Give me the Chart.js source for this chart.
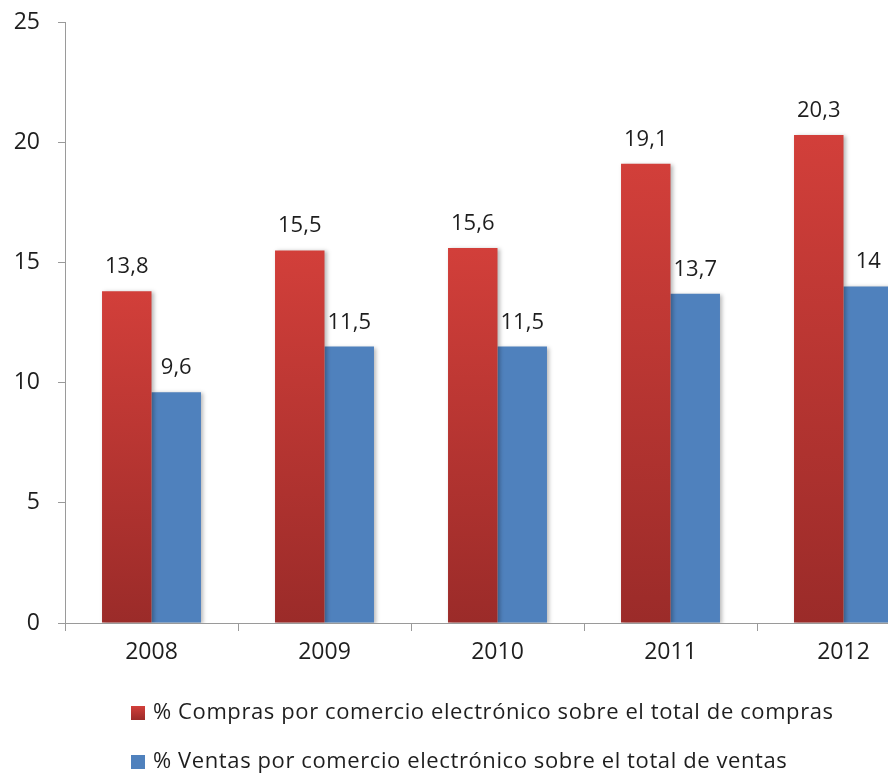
<!DOCTYPE html>
<html lang="es">
<head>
    <meta charset="UTF-8">
    <title>Comercio electrónico</title>
    <script src="https://cdn.jsdelivr.net/npm/chart.js"></script>
    <style>
        body {
            margin: 0;
            background: #fff;
            overflow: hidden;
        }
        #wrap {
            width: 940px;
            height: 773px;
        }
    </style>
</head>
<body>
    <div id="wrap">
        <canvas id="barChart" width="940" height="773"></canvas>
    </div>

    <script>
        const years = ['2008', '2009', '2010', '2011', '2012'];
        const compras = [13.8, 15.5, 15.6, 19.1, 20.3];
        const ventas = [9.6, 11.5, 11.5, 13.7, 14];
        const seriesNames = [
            '% Compras por comercio electrónico sobre el total de compras',
            '% Ventas por comercio electrónico sobre el total de ventas'
        ];
        const yTicks = [0, 5, 10, 15, 20, 25];

        const FONT = '"Open Sans", sans-serif';
        const BLUE = '#4f81bd';

        // red bars fade from a bright top to a darker base, one gradient per bar
        function redFill(context) {
            const chart = context.chart;
            if (!chart.chartArea || context.dataIndex === undefined) return '#c0392f';
            const y = chart.scales.y;
            const top = y.getPixelForValue(compras[context.dataIndex]);
            const bottom = y.getPixelForValue(0);
            const g = chart.ctx.createLinearGradient(0, top, 0, bottom);
            g.addColorStop(0, '#d23f3a');
            g.addColorStop(1, '#9b2b29');
            return g;
        }

        const barShadow = {
            id: 'barShadow',
            beforeDatasetsDraw(chart) {
                const ctx = chart.ctx;
                ctx.save();
                ctx.shadowColor = 'rgba(0,0,0,0.28)';
                ctx.shadowBlur = 4;
                ctx.shadowOffsetX = 2;
                ctx.shadowOffsetY = 1;
            },
            afterDatasetsDraw(chart) {
                chart.ctx.restore();
            }
        };

        const valueLabels = {
            id: 'valueLabels',
            afterDatasetsDraw(chart) {
                const ctx = chart.ctx;
                ctx.save();
                ctx.font = '22px ' + FONT;
                ctx.fillStyle = '#1e1e1e';
                ctx.textAlign = 'center';
                ctx.textBaseline = 'alphabetic';
                chart.data.datasets.forEach((ds, i) => {
                    chart.getDatasetMeta(i).data.forEach((bar, j) => {
                        const txt = String(ds.data[j]).replace('.', ',');
                        ctx.fillText(txt, bar.x, bar.y - 18);
                    });
                });
                ctx.restore();
            }
        };

        // two-row legend under the plot, aligned to the left
        const bottomLegend = {
            id: 'bottomLegend',
            afterDraw(chart) {
                const ctx = chart.ctx;
                const x0 = 131;
                const rows = [713, 762];
                ctx.save();
                ctx.font = '22px ' + FONT;
                ctx.letterSpacing = '0.6px';
                ctx.textBaseline = 'middle';
                chart.data.datasets.forEach((ds, i) => {
                    const cy = rows[i];
                    if (i === 0) {
                        const g = ctx.createLinearGradient(0, cy - 7, 0, cy + 7);
                        g.addColorStop(0, '#d23f3a');
                        g.addColorStop(1, '#9b2b29');
                        ctx.fillStyle = g;
                    } else {
                        ctx.fillStyle = BLUE;
                    }
                    ctx.fillRect(x0, cy - 7, 14, 14);
                    ctx.fillStyle = '#1e1e1e';
                    ctx.fillText(ds.label, x0 + 22, cy);
                });
                ctx.restore();
            }
        };

        const chart = new Chart(document.getElementById('barChart'), {
            type: 'bar',
            data: {
                labels: years,
                datasets: [
                    { label: seriesNames[0], data: compras, backgroundColor: redFill },
                    { label: seriesNames[1], data: ventas, backgroundColor: BLUE }
                ]
            },
            options: {
                responsive: false,
                animation: false,
                layout: { padding: { top: 22, right: 10, bottom: 100, left: 0 } },
                datasets: {
                    bar: { categoryPercentage: 0.572, barPercentage: 1 }
                },
                plugins: {
                    legend: { display: false },
                    tooltip: { enabled: false }
                },
                scales: {
                    x: {
                        grid: {
                            display: true,
                            drawOnChartArea: false,
                            drawTicks: true,
                            tickLength: 8,
                            color: '#9a9a9a',
                            offset: true
                        },
                        border: { color: '#9a9a9a', width: 1 },
                        ticks: {
                            color: '#1e1e1e',
                            font: { family: FONT, size: 23 },
                            padding: 8
                        },
                        afterFit(scale) { scale.height = 50; }
                    },
                    y: {
                        min: 0,
                        max: 25,
                        afterBuildTicks(scale) {
                            scale.ticks = yTicks.map(v => ({ value: v }));
                        },
                        grid: {
                            drawOnChartArea: false,
                            drawTicks: true,
                            tickLength: 7,
                            color: '#9a9a9a'
                        },
                        border: { color: '#9a9a9a', width: 1 },
                        ticks: {
                            color: '#1e1e1e',
                            font: { family: FONT, size: 23 },
                            padding: 18
                        },
                        afterFit(scale) {
                            scale.width = 65;
                            // let the "25" label sit above the plot without pushing it down
                            scale.paddingTop = 0;
                            scale.paddingBottom = 0;
                        }
                    }
                }
            },
            plugins: [barShadow, valueLabels, bottomLegend]
        });
    </script>
</body>
</html>
